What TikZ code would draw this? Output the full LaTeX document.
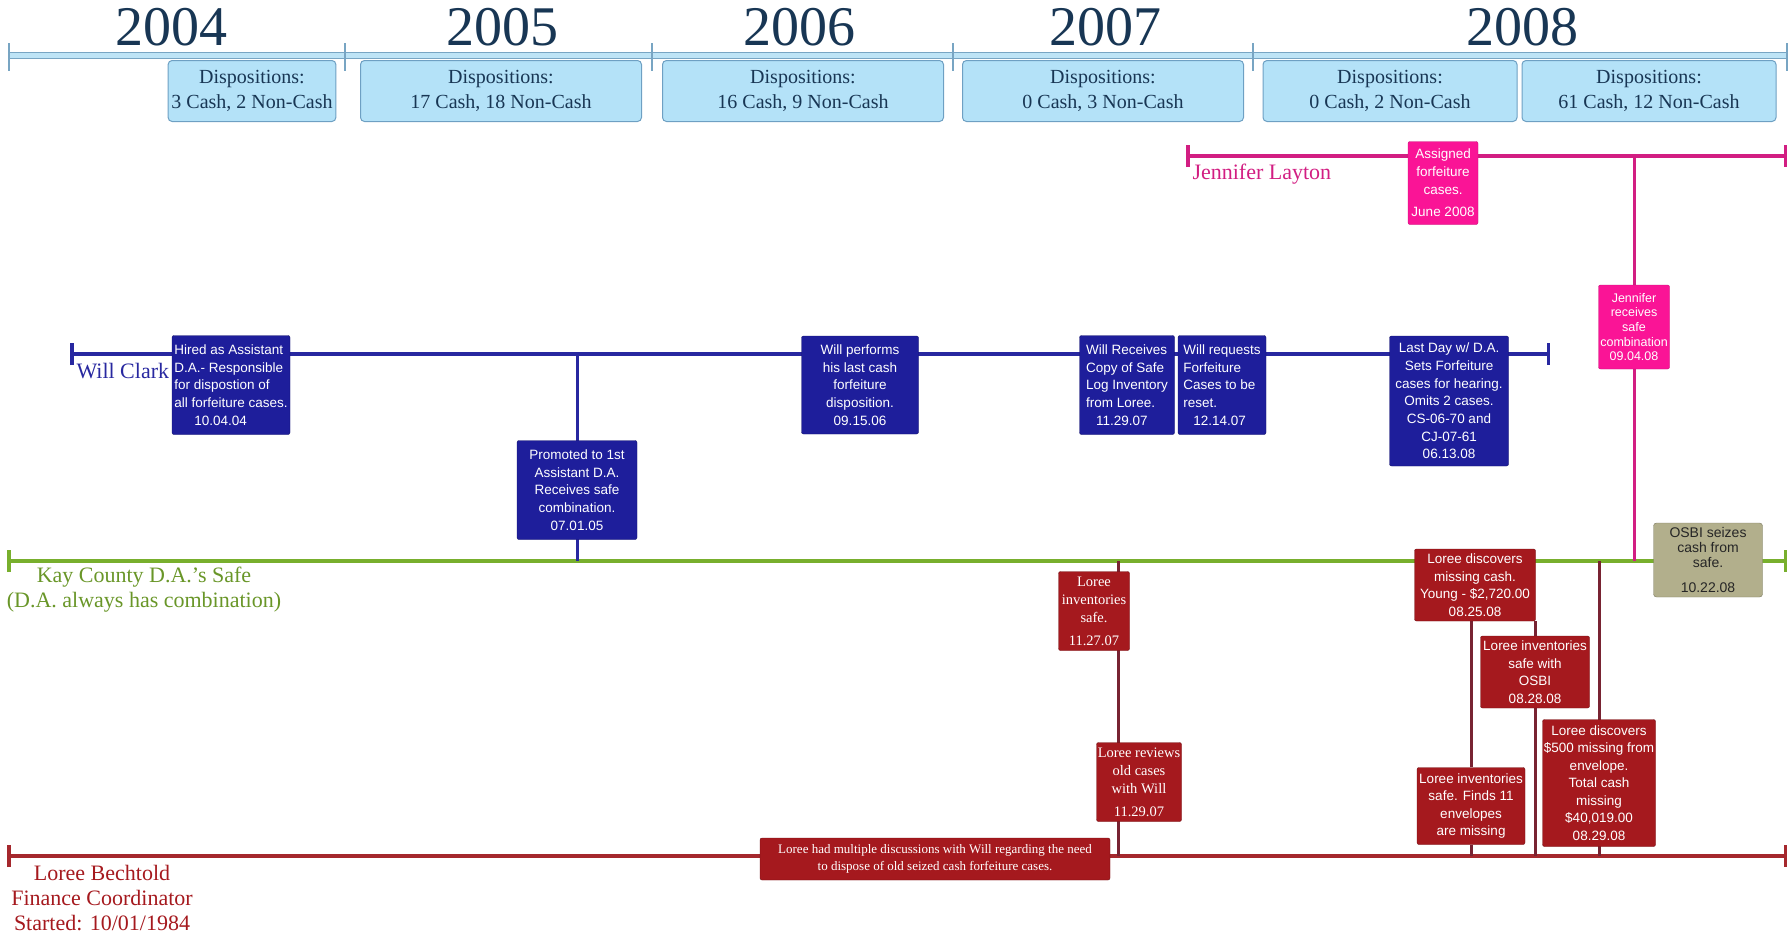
\documentclass[tikz,border=0pt]{standalone}
\usepackage{fontspec}
\setmainfont{Liberation Serif}
\newfontfamily\arialfont{Liberation Sans}
\usetikzlibrary{arrows.meta}

\definecolor{yearblue}{RGB}{24,54,84}
\definecolor{barfill}{RGB}{190,228,246}
\definecolor{barline}{RGB}{120,165,195}
\definecolor{dispfill}{RGB}{180,226,248}
\definecolor{displine}{RGB}{110,160,195}
\definecolor{willblue}{RGB}{30,30,155}
\definecolor{willline}{RGB}{40,40,160}
\definecolor{jenpink}{RGB}{250,20,150}
\definecolor{jenline}{RGB}{210,30,130}
\definecolor{safegreen}{RGB}{120,175,45}
\definecolor{safetext}{RGB}{105,150,40}
\definecolor{loreered}{RGB}{165,25,30}
\definecolor{loreeline}{RGB}{165,40,45}
\definecolor{loreevert}{RGB}{120,35,50}
\definecolor{osbikhaki}{RGB}{178,175,140}
\definecolor{osbiline}{RGB}{125,123,98}

\pgfdeclarelayer{background}
\pgfsetlayers{background,main}

\tikzset{
  year/.style={text=yearblue,font=\fontsize{56}{56}\selectfont},
  disp/.style={draw=displine,fill=dispfill,rounded corners=4pt,line width=1pt,minimum height=61pt,align=center,text=yearblue,font=\fontsize{20}{25}\selectfont},
  tline/.style={line width=3.5pt,{Bar[width=22pt]}-{Bar[width=22pt]}},
  who/.style={font=\fontsize{22}{25}\selectfont,align=center},
  willbox/.style={fill=willblue,draw=willblue!70!black,rounded corners=2pt,text=white,inner sep=1pt,font=\arialfont\fontsize{13.5}{17.7}\selectfont},
  jenbox/.style={fill=jenpink,draw=jenpink!80!black,rounded corners=2pt,text=white,align=center,inner sep=1pt,font=\arialfont\fontsize{13.5}{18}\selectfont},
  redbox/.style={fill=loreered,draw=loreered!70!black,rounded corners=2pt,text=white,align=center,inner sep=1pt,font=\arialfont\fontsize{13.5}{17.5}\selectfont},
  redserif/.style={fill=loreered,draw=loreered!70!black,rounded corners=2pt,text=white,align=center,inner sep=1pt,font=\fontsize{14.5}{18.3}\selectfont},
  osbibox/.style={fill=osbikhaki,draw=osbiline,rounded corners=3pt,text=black!85,align=center,inner sep=1pt,font=\arialfont\fontsize{14}{15}\selectfont},
  vline/.style={line width=3pt}
}

\begin{document}
\begin{tikzpicture}[x=1pt,y=-1pt]
\useasboundingbox (0,0) rectangle (1790,937);

\node[year] (Y2004) at (171,27){2004};
\node[year] (Y2005) at (502,27){2005};
\node[year] (Y2006) at (799,27){2006};
\node[year] (Y2007) at (1105,27){2007};
\node[year] (Y2008) at (1522,27){2008};

\coordinate (TB0) at (9,55);
\coordinate (TB1) at (1787,55);
\draw[draw=barline,double=barfill,double distance=5pt,line width=1pt] (TB0) -- (TB1);
\foreach \x in {9,345,652,953,1253,1787}
  \draw[barline,line width=1.5pt] (\x,43) -- (\x,71);

\node[disp,minimum width=163pt] (D2004) at (252,91){Dispositions:\\3 Cash, 2 Non-Cash};
\node[disp,minimum width=281pt] (D2005) at (501,91){Dispositions:\\17 Cash, 18 Non-Cash};
\node[disp,minimum width=281pt] (D2006) at (803,91){Dispositions:\\16 Cash, 9 Non-Cash};
\node[disp,minimum width=281pt] (D2007) at (1103,91){Dispositions:\\0 Cash, 3 Non-Cash};
\node[disp,minimum width=254pt] (D2008A) at (1390,91){Dispositions:\\0 Cash, 2 Non-Cash};
\node[disp,minimum width=254pt] (D2008B) at (1649,91){Dispositions:\\61 Cash, 12 Non-Cash};

\coordinate (JL0) at (1186,156);
\coordinate (JL1) at (1787,156);
\coordinate (WC0) at (70,354);
\coordinate (WC1) at (1550,354);
\coordinate (KS0) at (7,561);
\coordinate (KS1) at (1787,561);
\coordinate (LB0) at (7,856);
\coordinate (LB1) at (1787,856);
\coordinate (LR) at (1118,561);

\node[who,text=jenline,anchor=west] (JLNAME) at (1189,174){Jennifer Layton};
\node[who,text=willline,anchor=west] (WCNAME) at (73,371){Will Clark};
\node[who,text=safetext] (KSNAME) at (144,590){Kay County D.A.’s Safe\\(D.A. always has combination)};
\node[who,text=loreered] (LBNAME) at (102,898){Loree Bechtold\\Finance Coordinator\\Started: 10/01/1984};

\node[jenbox,minimum width=70pt,minimum height=83pt] (ASSIGN) at (1443,183){Assigned\\forfeiture\\cases.\\[4pt]June 2008};
\node[jenbox,minimum width=71pt,minimum height=84pt,font=\arialfont\fontsize{12.5}{14.6}\selectfont] (JREC) at (1634,327){Jennifer\\receives\\safe\\combination\\09.04.08};

\node[willbox,minimum width=118pt,minimum height=99pt,align=left] (HIRED) at (231,385){Hired as Assistant\\D.A.- Responsible\\for dispostion of\\all forfeiture cases.\\\hspace*{20pt}10.04.04};
\node[willbox,minimum width=120pt,minimum height=99pt,align=center] (PROM) at (577,490){Promoted to 1st\\Assistant D.A.\\Receives safe\\combination.\\07.01.05};
\node[willbox,minimum width=117pt,minimum height=98pt,align=center] (LAST) at (860,385){Will performs\\his last cash\\forfeiture\\disposition.\\09.15.06};
\node[willbox,minimum width=95pt,minimum height=99pt,align=left] (COPY) at (1127,385){Will Receives\\Copy of Safe\\Log Inventory\\from Loree.\\\hspace*{10pt}11.29.07};
\node[willbox,minimum width=88pt,minimum height=99pt,align=left] (RESET) at (1222,385){Will requests\\Forfeiture\\Cases to be\\reset.\\\hspace*{10pt}12.14.07};
\node[willbox,minimum width=119pt,minimum height=130pt,align=center] (LEAVE) at (1449,401){Last Day w/ D.A.\\Sets Forfeiture\\cases for hearing.\\Omits 2 cases.\\CS-06-70 and\\CJ-07-61\\06.13.08};

\node[osbibox,minimum width=109pt,minimum height=74pt] (SEIZE) at (1708,560){OSBI seizes\\cash from\\safe.\\[10pt]10.22.08};

\node[redserif,minimum width=71pt,minimum height=79pt] (LINV) at (1094,611){Loree\\inventories\\safe.\\[4pt]11.27.07};
\node[redserif,minimum width=85pt,minimum height=79pt] (LREV) at (1139,782){Loree reviews\\old cases\\with Will\\[4pt]11.29.07};
\node[redserif,minimum width=350pt,minimum height=42pt,font=\fontsize{13}{17}\selectfont] (LDISC) at (935,859){Loree had multiple discussions with Will regarding the need\\to dispose of old seized cash forfeiture cases.};

\node[redbox,minimum width=121pt,minimum height=72pt] (LDIS) at (1475,585){Loree discovers\\missing cash.\\Young - \$2,720.00\\08.25.08};
\node[redbox,minimum width=109pt,minimum height=72pt] (LOSBI) at (1535,672){Loree inventories\\safe with\\OSBI\\08.28.08};
\node[redbox,minimum width=108pt,minimum height=77pt] (LFIND) at (1471,806){Loree inventories\\safe. Finds 11\\envelopes\\are missing};
\node[redbox,minimum width=113pt,minimum height=127pt] (L500) at (1599,783){Loree discovers\\\$500 missing from\\envelope.\\Total cash\\missing\\\$40,019.00\\08.29.08};

\begin{pgfonlayer}{background}
\draw[tline,jenline] (JL0) -- (JL1);
\draw[tline,willline] (WC0) -- (WC1);
\draw[tline,safegreen] (KS0) -- (KS1);
\draw[tline,loreeline] (LB0) -- (LB1);
\draw[vline,jenline] (JREC |- JL0) -- (JREC |- KS0);
\draw[vline,willline] (PROM |- WC0) -- (PROM |- KS0);
\draw[vline,loreevert] (LR) -- (LR |- LB0);
\draw[vline,loreevert] (LFIND.north) -- (LFIND.north |- LDIS.south);
\draw[vline,loreevert] (LFIND.south) -- (LFIND.south |- LB0);
\draw[vline,loreevert] (LOSBI.north) -- (LOSBI.north |- LDIS.south);
\draw[vline,loreevert] (LOSBI.south) -- (LOSBI.south |- LB0);
\draw[vline,loreevert] (L500 |- KS0) -- (L500 |- LB0);
\end{pgfonlayer}
\end{tikzpicture}
\end{document}
